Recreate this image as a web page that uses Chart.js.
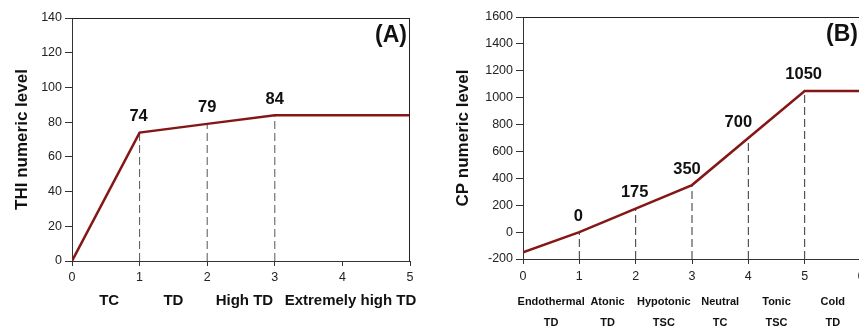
<!DOCTYPE html>
<html>
<head>
<meta charset="utf-8">
<script src="https://cdn.jsdelivr.net/npm/chart.js@4/dist/chart.umd.min.js"></script>
<style>
  html, body { margin: 0; padding: 0; background: #fff; overflow: hidden; }
  body { width: 859px; height: 329px; position: relative; }
  canvas { position: absolute; top: 0; }
  #chartA { left: 0; }
  #chartB { left: 430px; }
</style>
</head>
<body>
<canvas id="chartA" width="430" height="329"></canvas>
<canvas id="chartB" width="440" height="329"></canvas>
<script>
// Panel A - THI
const xA = [0, 1, 2, 3, 5];
const yA = [0, 74, 79, 84, 84];
const zonesA = ['TC', 'TD', 'High TD', 'Extremely high TD'];
const zoneCentersA = [0.55, 1.5, 2.55, 4.12];
const labelIdxA = [1, 2, 3];

// Panel B - CP
const xB = [0, 1, 2, 3, 4, 5, 6];
const yB = [-150, 0, 175, 350, 700, 1050, 1050];
const zonesB = [['Endothermal', 'TD'], ['Atonic', 'TD'], ['Hypotonic', 'TSC'], ['Neutral', 'TC'], ['Tonic', 'TSC'], ['Cold', 'TD']];
const zoneCentersB = [0.5, 1.5, 2.5, 3.5, 4.5, 5.5];
const labelIdxB = [1, 2, 3, 4, 5];

const FONT = "'Liberation Sans', Arial, sans-serif";
const LINE = '#851616';
const AXIS = '#333';

const panelDecor = {
    id: 'panelDecor',
    afterDatasetsDraw(chart, args, opts) {
        const ctx = chart.ctx;
        const a = chart.chartArea;
        ctx.save();
        // top + right frame
        ctx.strokeStyle = '#222';
        ctx.lineWidth = 1;
        ctx.beginPath();
        ctx.moveTo(a.left, Math.round(a.top) + 0.5);
        ctx.lineTo(a.right, Math.round(a.top) + 0.5);
        ctx.moveTo(Math.round(a.right) - 0.5, a.top);
        ctx.lineTo(Math.round(a.right) - 0.5, a.bottom);
        ctx.stroke();
        // value labels
        const meta = chart.getDatasetMeta(0);
        const data = chart.data.datasets[0].data;
        ctx.fillStyle = '#111';
        ctx.font = 'bold 16.5px ' + FONT;
        ctx.textAlign = 'center';
        ctx.textBaseline = 'middle';
        opts.labelIdx.forEach((i, k) => {
            const p = meta.data[i];
            ctx.fillText(String(data[i].y), p.x + (opts.labelDx[k] || 0), p.y - 16);
        });
        // panel tag
        ctx.font = 'bold 23px ' + FONT;
        ctx.textAlign = 'right';
        ctx.fillText(opts.tag, a.right - 3, a.top + 18);
        ctx.restore();
    }
};

function makeChart(id, o) {
    const pts = o.xs.map((x, i) => ({ x: x, y: o.ys[i] }));
    const datasets = [{
        data: pts,
        borderColor: LINE,
        borderWidth: 2.5,
        pointRadius: 0,
        tension: 0
    }];
    // dashed drop lines from the labelled points down to the x axis
    o.labelIdx.forEach(i => {
        datasets.push({
            data: [{ x: o.xs[i], y: o.yMin }, { x: o.xs[i], y: o.ys[i] }],
            borderColor: o.dropColor,
            borderWidth: 1,
            borderDash: [8, 4],
            pointRadius: 0
        });
    });

    return new Chart(document.getElementById(id).getContext('2d'), {
        type: 'line',
        data: { datasets: datasets },
        plugins: [panelDecor],
        options: {
            responsive: false,
            animation: false,
            layout: { padding: { top: o.padTop, right: o.padRight, left: 0, bottom: 0 } },
            plugins: {
                legend: { display: false },
                tooltip: { enabled: false },
                panelDecor: { labelIdx: o.labelIdx, labelDx: o.labelDx, tag: o.tag }
            },
            scales: {
                x: {
                    type: 'linear',
                    min: 0,
                    max: o.xMax,
                    weight: 0,
                    border: { display: true, color: AXIS, width: 1 },
                    grid: { drawOnChartArea: false, drawTicks: true, tickLength: 5, color: AXIS },
                    ticks: { stepSize: 1, color: '#222', padding: o.xTickPad, maxRotation: 0,
                             font: { family: FONT, size: 12.5 } },
                    afterFit(s) { s.height = 22; }
                },
                xCat: {
                    type: 'linear',
                    position: 'bottom',
                    min: 0,
                    max: o.xMax,
                    weight: 1,
                    border: { display: false },
                    grid: { display: false, drawTicks: false },
                    afterBuildTicks(s) { s.ticks = o.zoneCenters.map(v => ({ value: v })); },
                    ticks: {
                        autoSkip: false,
                        maxRotation: 0,
                        padding: o.catPad,
                        color: '#111',
                        font: { family: FONT, size: o.catSize, weight: 'bold', lineHeight: o.catLine },
                        callback: (v, i) => o.zones[i]
                    },
                    afterFit(s) { s.height = o.catHeight; }
                },
                y: {
                    min: o.yMin,
                    max: o.yMax,
                    border: { display: true, color: AXIS, width: 1 },
                    grid: { drawOnChartArea: false, drawTicks: true, tickLength: 7, color: AXIS },
                    ticks: { stepSize: o.yStep, color: '#222', padding: 3,
                             font: { family: FONT, size: 12.5 },
                             callback: v => String(v) },
                    title: {
                        display: true,
                        text: o.yTitle,
                        color: '#111',
                        font: { family: FONT, size: 17, weight: 'bold', lineHeight: 1.2 },
                        padding: { top: o.titlePad, bottom: 0 }
                    },
                    afterFit(s) { s.width = o.yWidth; }
                }
            }
        }
    });
}

makeChart('chartA', {
    xs: xA, ys: yA, zones: zonesA, zoneCenters: zoneCentersA, labelIdx: labelIdxA,
    labelDx: [-1, 0, 0], tag: '(A)', dropColor: '#555',
    xMax: 5, yMin: 0, yMax: 140, yStep: 20, yTitle: 'THI numeric level',
    padTop: 18, padRight: 20, yWidth: 72, titlePad: 12,
    xTickPad: 4, catPad: 8.5, catSize: 15, catLine: 1.2, catHeight: 46
});

makeChart('chartB', {
    xs: xB, ys: yB, zones: zonesB, zoneCenters: zoneCentersB, labelIdx: labelIdxB,
    labelDx: [-1, -1, -5, -10, -1], tag: '(B)', dropColor: '#333',
    xMax: 6, yMin: -200, yMax: 1600, yStep: 200, yTitle: 'CP numeric level',
    padTop: 17, padRight: 9, yWidth: 93, titlePad: 23,
    xTickPad: 5.5, catPad: 11, catSize: 11, catLine: 1.9, catHeight: 48
});
</script>
</body>
</html>
